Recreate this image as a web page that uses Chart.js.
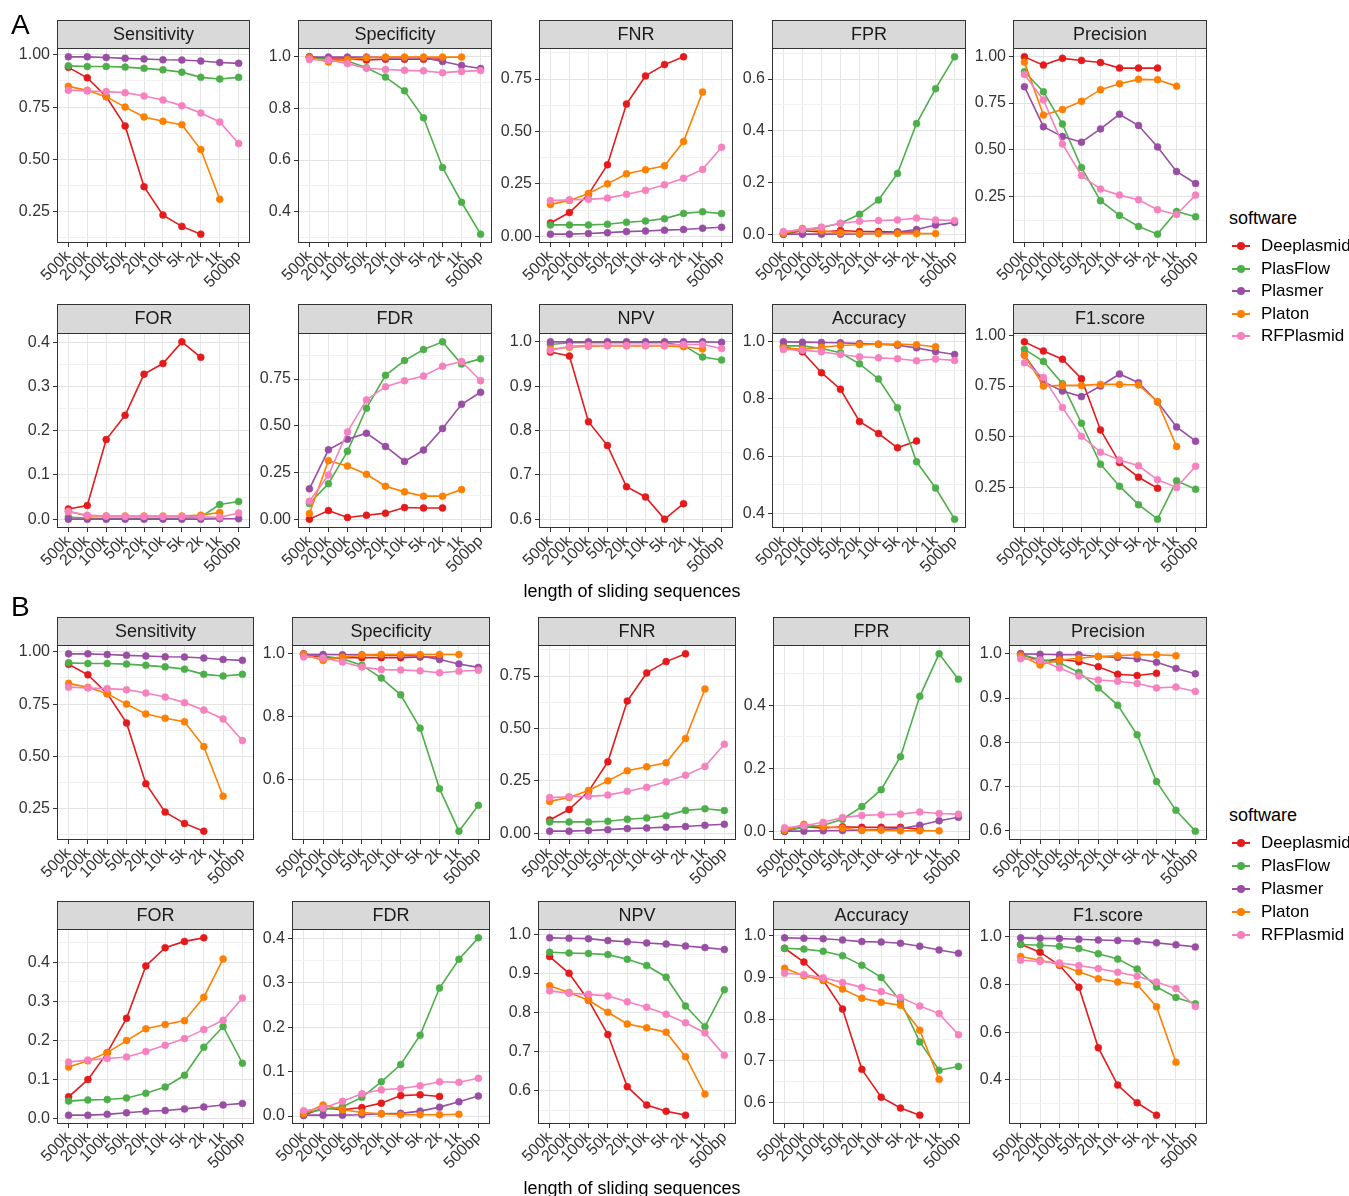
<!DOCTYPE html>
<html>
<head>
<meta charset="utf-8">
<script src="https://cdn.jsdelivr.net/npm/chart.js@4.4.1/dist/chart.umd.min.js"></script>
<style>
  body { margin: 0; background: #fff; font-family: 'Liberation Sans', Arial, sans-serif; }
  #page { position: relative; width: 1349px; height: 1196px; overflow: hidden; background: #fff; }
  .panel { position: absolute; }
  .txt { position: absolute; line-height: 1; white-space: nowrap; color: #000; }
  .key { position: absolute; width: 18px; height: 18px; }
  .key .ln { position: absolute; left: 0; top: 8px; width: 18px; height: 2px; }
  .key .pt { position: absolute; left: 5px; top: 5px; width: 8px; height: 8px; border-radius: 50%; }
</style>
</head>
<body>
<div id="page"></div>
<script>
// categories, series names and metrics
const lengths = ["500k", "200k", "100k", "50k", "20k", "10k", "5k", "2k", "1k", "500bp"];
const tools = ["Deeplasmid", "PlasFlow", "Plasmer", "Platon", "RFPlasmid"];
const metrics = ["Sensitivity", "Specificity", "FNR", "FPR", "Precision", "FOR", "FDR", "NPV", "Accuracy", "F1.score"];

// ---- panel A values, one row per tool (Deeplasmid, PlasFlow, Plasmer, Platon, RFPlasmid)
const aSensitivity = [
  [0.94, 0.89, 0.80, 0.66, 0.37, 0.234, 0.18, 0.143, null, null],
  [0.947, 0.944, 0.944, 0.941, 0.935, 0.928, 0.917, 0.892, 0.884, 0.892],
  [0.99, 0.99, 0.987, 0.983, 0.98, 0.976, 0.975, 0.97, 0.963, 0.959],
  [0.849, 0.83, 0.80, 0.75, 0.703, 0.682, 0.666, 0.547, 0.31, null],
  [0.831, 0.827, 0.824, 0.819, 0.803, 0.784, 0.757, 0.722, 0.679, 0.576]
];
const aSpecificity = [
  [0.998, 0.99, 0.99, 0.986, 0.989, 0.989, 0.989, 0.99, null, null],
  [0.995, 0.988, 0.982, 0.956, 0.92, 0.867, 0.763, 0.571, 0.437, 0.314],
  [0.997, 0.997, 0.997, 0.997, 0.995, 0.995, 0.995, 0.98, 0.965, 0.953],
  [0.995, 0.978, 0.988, 0.995, 0.997, 0.997, 0.997, 0.997, 0.997, null],
  [0.988, 0.986, 0.972, 0.954, 0.949, 0.946, 0.944, 0.937, 0.942, 0.945]
];
const aFNR = [
  [0.063, 0.113, 0.2, 0.341, 0.631, 0.765, 0.819, 0.856, null, null],
  [0.054, 0.054, 0.054, 0.057, 0.067, 0.073, 0.084, 0.109, 0.117, 0.108],
  [0.01, 0.01, 0.013, 0.017, 0.022, 0.025, 0.029, 0.032, 0.038, 0.043],
  [0.152, 0.171, 0.204, 0.25, 0.298, 0.317, 0.336, 0.452, 0.688, null],
  [0.17, 0.174, 0.176, 0.182, 0.2, 0.219, 0.246, 0.277, 0.319, 0.425]
];
const aFPR = [
  [0.0, 0.013, 0.008, 0.014, 0.01, 0.01, 0.008, 0.008, null, null],
  [0.005, 0.014, 0.026, 0.042, 0.077, 0.132, 0.235, 0.428, 0.563, 0.686],
  [0.0, 0.0, 0.0, 0.0, 0.001, 0.004, 0.008, 0.018, 0.035, 0.045],
  [0.002, 0.022, 0.013, 0.005, 0.002, 0.002, 0.002, 0.002, 0.002, null],
  [0.01, 0.018, 0.027, 0.042, 0.05, 0.053, 0.055, 0.062, 0.055, 0.053]
];
const aPrecision = [
  [0.996, 0.952, 0.988, 0.977, 0.966, 0.936, 0.936, 0.936, null, null],
  [0.917, 0.81, 0.638, 0.406, 0.229, 0.151, 0.092, 0.051, 0.172, 0.144],
  [0.837, 0.624, 0.571, 0.541, 0.612, 0.69, 0.63, 0.516, 0.385, 0.321],
  [0.968, 0.686, 0.715, 0.759, 0.821, 0.853, 0.876, 0.874, 0.84, null],
  [0.902, 0.766, 0.532, 0.363, 0.291, 0.259, 0.234, 0.181, 0.156, 0.259]
];
const aFOR = [
  [0.023, 0.031, 0.18, 0.235, 0.328, 0.352, 0.401, 0.366, null, null],
  [0.005, 0.002, 0.002, 0.002, 0.002, 0.002, 0.002, 0.005, 0.033, 0.04],
  [0.0, 0.0, 0.0, 0.0, 0.0, 0.0, 0.0, 0.0, 0.001, 0.001],
  [0.018, 0.007, 0.007, 0.007, 0.007, 0.007, 0.007, 0.009, 0.015, null],
  [0.017, 0.009, 0.007, 0.006, 0.006, 0.006, 0.006, 0.005, 0.004, 0.014]
];
const aFDR = [
  [0.0, 0.046, 0.009, 0.021, 0.032, 0.062, 0.06, 0.06, null, null],
  [0.084, 0.19, 0.363, 0.594, 0.77, 0.849, 0.908, 0.949, 0.83, 0.858],
  [0.162, 0.371, 0.428, 0.46, 0.389, 0.309, 0.37, 0.485, 0.615, 0.679],
  [0.03, 0.313, 0.284, 0.24, 0.176, 0.146, 0.123, 0.123, 0.158, null],
  [0.096, 0.236, 0.467, 0.638, 0.709, 0.741, 0.766, 0.819, 0.844, 0.741]
];
const aNPV = [
  [0.977, 0.968, 0.82, 0.766, 0.673, 0.65, 0.6, 0.635, null, null],
  [0.994, 0.998, 0.998, 0.998, 0.998, 0.998, 0.998, 0.992, 0.966, 0.959],
  [1.0, 1.0, 1.0, 1.0, 1.0, 1.0, 1.0, 1.0, 1.0, 0.999],
  [0.983, 0.988, 0.99, 0.991, 0.991, 0.991, 0.991, 0.989, 0.984, null],
  [0.981, 0.99, 0.992, 0.992, 0.992, 0.992, 0.992, 0.994, 0.994, 0.985]
];
const aAccuracy = [
  [0.984, 0.965, 0.892, 0.834, 0.721, 0.679, 0.629, 0.653, null, null],
  [0.986, 0.986, 0.977, 0.962, 0.923, 0.87, 0.769, 0.58, 0.488, 0.379],
  [1.0, 0.999, 0.998, 0.997, 0.994, 0.992, 0.988, 0.979, 0.966, 0.956],
  [0.979, 0.974, 0.981, 0.987, 0.99, 0.992, 0.992, 0.99, 0.983, null],
  [0.973, 0.971, 0.965, 0.956, 0.948, 0.944, 0.941, 0.934, 0.94, 0.935]
];
const aF1 = [
  [0.967, 0.922, 0.882, 0.786, 0.534, 0.374, 0.302, 0.248, null, null],
  [0.93, 0.871, 0.761, 0.567, 0.366, 0.258, 0.167, 0.096, 0.284, 0.243],
  [0.902, 0.771, 0.725, 0.698, 0.75, 0.809, 0.766, 0.672, 0.549, 0.479],
  [0.902, 0.75, 0.753, 0.753, 0.758, 0.758, 0.755, 0.673, 0.453, null],
  [0.864, 0.792, 0.645, 0.503, 0.425, 0.387, 0.358, 0.289, 0.252, 0.356]
];

// ---- panel B values
const bSensitivity = [
  [0.94, 0.89, 0.80, 0.66, 0.37, 0.234, 0.18, 0.143, null, null],
  [0.947, 0.944, 0.944, 0.941, 0.935, 0.928, 0.917, 0.892, 0.884, 0.892],
  [0.99, 0.99, 0.987, 0.983, 0.98, 0.976, 0.975, 0.97, 0.963, 0.959],
  [0.849, 0.83, 0.80, 0.75, 0.703, 0.682, 0.666, 0.547, 0.31, null],
  [0.831, 0.827, 0.824, 0.819, 0.803, 0.784, 0.757, 0.722, 0.679, 0.576]
];
const bSpecificity = [
  [1.0, 0.987, 0.988, 0.988, 0.988, 0.988, 0.99, 0.99, null, null],
  [0.998, 0.993, 0.984, 0.964, 0.923, 0.87, 0.764, 0.572, 0.437, 0.519],
  [0.998, 0.998, 0.997, 0.997, 0.996, 0.995, 0.993, 0.982, 0.968, 0.957],
  [0.998, 0.979, 0.989, 0.996, 0.998, 0.998, 0.998, 0.998, 0.998, null],
  [0.99, 0.987, 0.974, 0.958, 0.95, 0.949, 0.946, 0.94, 0.945, 0.948]
];
const bFNR = [
  [0.063, 0.113, 0.2, 0.341, 0.631, 0.765, 0.819, 0.856, null, null],
  [0.054, 0.054, 0.054, 0.057, 0.067, 0.073, 0.084, 0.109, 0.117, 0.108],
  [0.01, 0.01, 0.013, 0.017, 0.022, 0.025, 0.029, 0.032, 0.038, 0.043],
  [0.152, 0.171, 0.204, 0.25, 0.298, 0.317, 0.336, 0.452, 0.688, null],
  [0.17, 0.174, 0.176, 0.182, 0.2, 0.219, 0.246, 0.277, 0.319, 0.425]
];
const bFPR = [
  [0.0, 0.014, 0.01, 0.014, 0.012, 0.012, 0.012, 0.006, null, null],
  [0.002, 0.012, 0.019, 0.038, 0.078, 0.132, 0.237, 0.429, 0.564, 0.483],
  [0.0, 0.0, 0.001, 0.002, 0.003, 0.005, 0.008, 0.019, 0.033, 0.044],
  [0.003, 0.022, 0.014, 0.01, 0.003, 0.003, 0.001, 0.001, 0.001, null],
  [0.011, 0.017, 0.028, 0.043, 0.05, 0.052, 0.054, 0.061, 0.056, 0.054]
];
const bPrecision = [
  [1.0, 0.983, 0.988, 0.982, 0.971, 0.954, 0.951, 0.956, null, null],
  [0.998, 0.988, 0.98, 0.958, 0.923, 0.884, 0.817, 0.711, 0.646, 0.599],
  [1.0, 0.999, 0.998, 0.998, 0.994, 0.992, 0.989, 0.981, 0.967, 0.955],
  [0.996, 0.975, 0.986, 0.99, 0.994, 0.996, 0.998, 0.998, 0.996, null],
  [0.989, 0.986, 0.968, 0.95, 0.941, 0.938, 0.933, 0.923, 0.925, 0.915]
];
const bFOR = [
  [0.056, 0.1, 0.169, 0.257, 0.391, 0.438, 0.454, 0.463, null, null],
  [0.045, 0.048, 0.049, 0.053, 0.065, 0.081, 0.111, 0.183, 0.236, 0.142],
  [0.009, 0.009, 0.011, 0.015, 0.019, 0.021, 0.025, 0.03, 0.035, 0.039],
  [0.132, 0.148, 0.169, 0.2, 0.23, 0.241, 0.251, 0.311, 0.409, null],
  [0.145, 0.15, 0.154, 0.158, 0.172, 0.188, 0.205, 0.228, 0.252, 0.309]
];
const bFDR = [
  [0.002, 0.018, 0.014, 0.019, 0.029, 0.046, 0.048, 0.044, null, null],
  [0.007, 0.014, 0.021, 0.042, 0.077, 0.116, 0.182, 0.288, 0.353, 0.401],
  [0.002, 0.002, 0.002, 0.003, 0.005, 0.006, 0.011, 0.02, 0.032, 0.045],
  [0.005, 0.025, 0.014, 0.008, 0.005, 0.003, 0.003, 0.003, 0.004, null],
  [0.012, 0.018, 0.033, 0.05, 0.059, 0.062, 0.068, 0.077, 0.076, 0.085]
];
const bNPV = [
  [0.944, 0.901, 0.832, 0.744, 0.61, 0.563, 0.547, 0.537, null, null],
  [0.955, 0.953, 0.952, 0.949, 0.937, 0.921, 0.891, 0.817, 0.764, 0.859],
  [0.992, 0.991, 0.99, 0.985, 0.982, 0.979, 0.976, 0.971, 0.967, 0.962],
  [0.869, 0.852, 0.832, 0.801, 0.771, 0.761, 0.75, 0.687, 0.591, null],
  [0.856, 0.85, 0.847, 0.843, 0.828, 0.814, 0.796, 0.774, 0.748, 0.691]
];
const bAccuracy = [
  [0.97, 0.937, 0.893, 0.824, 0.679, 0.612, 0.586, 0.569, null, null],
  [0.97, 0.968, 0.963, 0.952, 0.929, 0.9, 0.843, 0.745, 0.677, 0.686],
  [0.995, 0.994, 0.993, 0.99, 0.986, 0.985, 0.982, 0.975, 0.966, 0.958],
  [0.922, 0.904, 0.893, 0.872, 0.85, 0.84, 0.833, 0.773, 0.655, null],
  [0.91, 0.907, 0.899, 0.888, 0.876, 0.866, 0.852, 0.831, 0.813, 0.762]
];
const bF1 = [
  [0.969, 0.936, 0.881, 0.789, 0.535, 0.378, 0.304, 0.252, null, null],
  [0.968, 0.965, 0.961, 0.951, 0.929, 0.907, 0.865, 0.79, 0.746, 0.719],
  [0.996, 0.994, 0.993, 0.99, 0.987, 0.985, 0.982, 0.975, 0.967, 0.958],
  [0.918, 0.902, 0.884, 0.854, 0.824, 0.811, 0.8, 0.707, 0.474, null],
  [0.902, 0.897, 0.891, 0.88, 0.867, 0.852, 0.835, 0.811, 0.783, 0.708]
];

// y tick labels per metric (same order as metrics)
const aTicks = [
  [0.25, 0.5, 0.75, 1], [0.4, 0.6, 0.8, 1], [0, 0.25, 0.5, 0.75], [0, 0.2, 0.4, 0.6], [0.25, 0.5, 0.75, 1],
  [0, 0.1, 0.2, 0.3, 0.4], [0, 0.25, 0.5, 0.75], [0.6, 0.7, 0.8, 0.9, 1], [0.4, 0.6, 0.8, 1], [0.25, 0.5, 0.75, 1]
];
const bTicks = [
  [0.25, 0.5, 0.75, 1], [0.6, 0.8, 1], [0, 0.25, 0.5, 0.75], [0, 0.2, 0.4], [0.6, 0.7, 0.8, 0.9, 1],
  [0, 0.1, 0.2, 0.3, 0.4], [0, 0.1, 0.2, 0.3, 0.4], [0.6, 0.7, 0.8, 0.9, 1], [0.6, 0.7, 0.8, 0.9, 1], [0.4, 0.6, 0.8, 1]
];

const aData = [aSensitivity, aSpecificity, aFNR, aFPR, aPrecision, aFOR, aFDR, aNPV, aAccuracy, aF1];
const bData = [bSensitivity, bSpecificity, bFNR, bFPR, bPrecision, bFOR, bFDR, bNPV, bAccuracy, bF1];

// ---- styling / layout
const toolColors = ["#E41A1C", "#4DAF4A", "#984EA3", "#FF7F00", "#F781BF"];
const FONT = "'Liberation Sans', Arial, sans-serif";
const rowsA = [{ strip: 20, top: 48, bottom: 243 }, { strip: 304, top: 333, bottom: 528 }];
const rowsB = [{ strip: 617, top: 645, bottom: 840 }, { strip: 901, top: 929, bottom: 1124 }];
const colsA = [[57, 250], [298, 492], [539, 733], [772, 966], [1013, 1207]];
const colsB = [[57, 254], [292, 490], [538, 736], [773, 970], [1009, 1207]];
const AXW = 50, PR = 14, XAH = 56;

Chart.defaults.font.family = FONT;
Chart.defaults.color = "#333";

const page = document.getElementById("page");

// gray strip on top of each panel + panel border, like ggplot facets
const facetPlugin = {
  id: "facet",
  afterDraw(chart, args, opts) {
    const { ctx, chartArea: a } = chart;
    ctx.save();
    ctx.lineWidth = 1;
    ctx.strokeStyle = "#333333";
    ctx.strokeRect(a.left + 0.5, a.top + 0.5, a.right - a.left - 1, a.bottom - a.top - 1);
    ctx.fillStyle = "#d9d9d9";
    ctx.fillRect(a.left, 0, a.right - a.left, a.top);
    ctx.strokeRect(a.left + 0.5, 0.5, a.right - a.left - 1, a.top);
    ctx.fillStyle = "#1a1a1a";
    ctx.font = "18px " + FONT;
    ctx.textAlign = "center";
    ctx.textBaseline = "middle";
    ctx.fillText(opts.title, (a.left + a.right) / 2, a.top / 2 + 1);
    ctx.restore();
  }
};

function makePanel(title, series, ticks, row, col) {
  const stripH = row.top - row.strip;
  const plotH = row.bottom - row.top;
  const plotW = col[1] - col[0];
  const W = AXW + plotW + PR, H = stripH + plotH + XAH;

  const wrap = document.createElement("div");
  wrap.className = "panel";
  wrap.style.left = (col[0] - AXW) + "px";
  wrap.style.top = row.strip + "px";
  const canvas = document.createElement("canvas");
  canvas.width = W; canvas.height = H;
  canvas.style.width = W + "px"; canvas.style.height = H + "px";
  wrap.appendChild(canvas);
  page.appendChild(wrap);

  const vals = series.flat().filter(v => v !== null);
  const lo = Math.min(...vals), hi = Math.max(...vals);
  const pad = (hi - lo) * 0.05;
  const ymin = lo - pad, ymax = hi + pad;

  const step = ticks[1] - ticks[0];
  const dec = Math.abs(step - 0.25) < 1e-9 ? 2 : 1;
  const minors = [ticks[0] - step / 2].concat(ticks.map(t => t + step / 2)).filter(v => v > ymin && v < ymax);
  const isMajor = v => ticks.some(t => Math.abs(t - v) < 1e-9);
  const allTicks = ticks.concat(minors).sort((p, q) => p - q);

  new Chart(canvas, {
    type: "line",
    data: {
      datasets: tools.map((name, i) => ({
        label: name,
        data: series[i].map((v, j) => ({ x: j, y: v })),
        borderColor: toolColors[i],
        backgroundColor: toolColors[i],
        pointBackgroundColor: toolColors[i],
        pointBorderColor: toolColors[i],
        borderWidth: 1.6,
        pointRadius: 3.5,
        pointBorderWidth: 0.5,
        tension: 0,
        spanGaps: false,
        order: tools.length - 1 - i
      }))
    },
    options: {
      responsive: false,
      animation: false,
      devicePixelRatio: 1,
      layout: { padding: { top: stripH, right: PR, left: 0, bottom: 0 } },
      plugins: { legend: { display: false }, tooltip: { enabled: false }, facet: { title: title } },
      scales: {
        x: {
          type: "linear", min: -0.6, max: 9.6,
          afterBuildTicks: s => { s.ticks = lengths.map((_, i) => ({ value: i })); },
          afterFit: s => { s.height = XAH; },
          ticks: {
            autoSkip: false, minRotation: 45, maxRotation: 45, padding: 0,
            font: { size: 16 }, color: "#333",
            callback: v => lengths[v]
          },
          grid: { color: "#e6e6e6", lineWidth: 1, tickColor: "#333", tickLength: 4 },
          border: { display: false }
        },
        y: {
          type: "linear", min: ymin, max: ymax, bounds: "data",
          afterBuildTicks: s => { s.ticks = allTicks.map(v => ({ value: v })); },
          afterFit: s => { s.width = AXW; },
          ticks: {
            autoSkip: false, padding: 3, font: { size: 16 }, color: "#333",
            callback: v => {
              const m = ticks.find(t => Math.abs(t - v) < 1e-9);
              return m === undefined ? "" : m.toFixed(dec);
            }
          },
          grid: {
            color: c => isMajor(c.tick.value) ? "#e3e3e3" : "#f1f1f1",
            lineWidth: 1,
            tickColor: c => isMajor(c.tick.value) ? "#333" : "rgba(0,0,0,0)",
            tickLength: 4
          },
          border: { display: false }
        }
      }
    },
    plugins: [facetPlugin]
  });
}

function makeSection(data, ticksList, rows, cols) {
  metrics.forEach((m, k) => {
    const r = Math.floor(k / 5), c = k % 5;
    makePanel(m, data[k], ticksList[k], rows[r], cols[c]);
  });
}

function addText(str, left, top, size, extra) {
  const d = document.createElement("div");
  d.className = "txt";
  d.textContent = str;
  d.style.left = left + "px";
  d.style.top = top + "px";
  d.style.fontSize = size + "px";
  if (extra) Object.assign(d.style, extra);
  page.appendChild(d);
}

function makeLegend(titleY, firstY, gap) {
  addText("software", 1229, titleY - 9.5, 18);
  tools.forEach((name, i) => {
    const y = firstY + i * gap;
    const k = document.createElement("div");
    k.className = "key";
    k.style.left = "1232px";
    k.style.top = (y - 9) + "px";
    k.innerHTML = '<div class="ln" style="background:' + toolColors[i] + '"></div><div class="pt" style="background:' + toolColors[i] + '"></div>';
    page.appendChild(k);
    addText(name, 1261, y - 9, 17);
  });
}

makeSection(aData, aTicks, rowsA, colsA);
makeSection(bData, bTicks, rowsB, colsB);

addText("A", 11, 11, 28);
addText("B", 11, 593, 28);
addText("length of sliding sequences", 432, 582, 18, { width: "400px", textAlign: "center" });
addText("length of sliding sequences", 432, 1179, 18, { width: "400px", textAlign: "center" });
makeLegend(218, 246, 22.5);
makeLegend(815, 843, 23);
</script>
</body>
</html>
